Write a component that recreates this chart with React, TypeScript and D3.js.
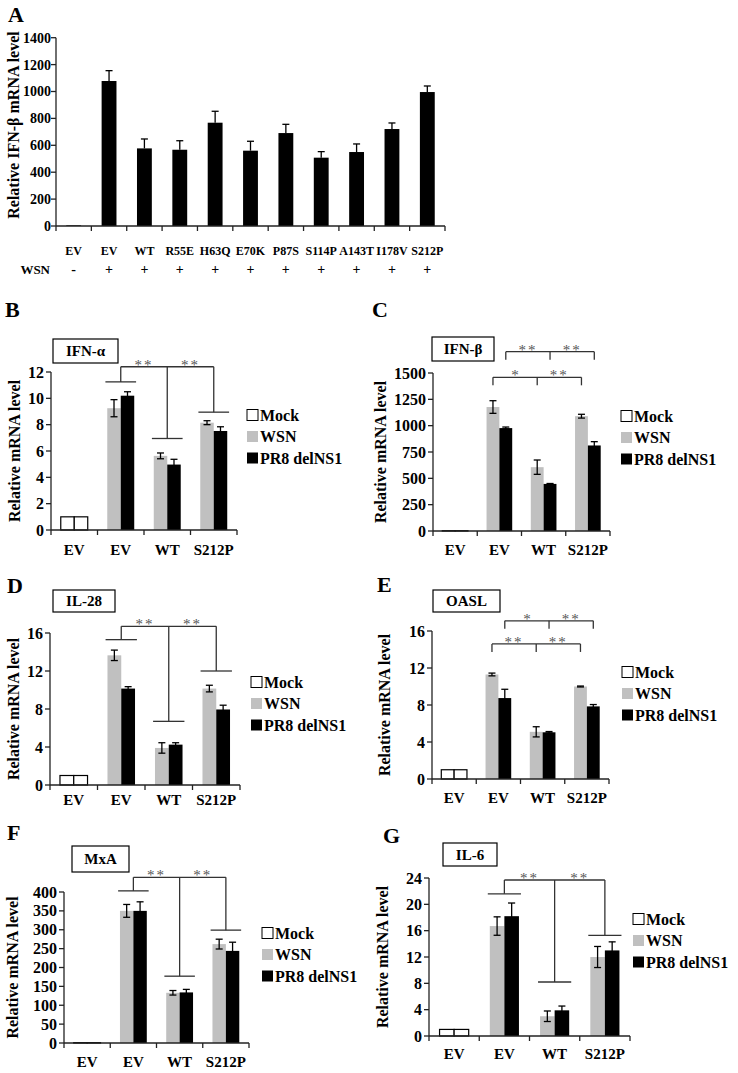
import React from 'react';
import * as d3 from 'd3';

const FONT = '"Liberation Serif", "Times New Roman", serif';
const GRAY = '#c0c0c0';

// Panel A: IFN-beta for NS1 mutants
const aCategories = ['EV', 'EV', 'WT', 'R55E', 'H63Q', 'E70K', 'P87S', 'S114P', 'A143T', 'I178V', 'S212P'];
const aWsn = ['-', '+', '+', '+', '+', '+', '+', '+', '+', '+', '+'];
const aValues = [5, 1078, 577, 567, 768, 560, 691, 508, 550, 721, 996];
const aErrors = [0, 77, 70, 67, 85, 70, 65, 45, 60, 45, 45];
const aTicks = [0, 200, 400, 600, 800, 1000, 1200, 1400];

// Panels B-G
const groups = ['EV', 'EV', 'WT', 'S212P'];
const legendLabels = ['Mock', 'WSN', 'PR8 delNS1'];

const ifnaMock = [1, 1];
const ifnaWsn = [9.25, 5.63, 8.15];
const ifnaWsnErr = [0.65, 0.22, 0.15];
const ifnaPr8 = [10.2, 4.97, 7.52];
const ifnaPr8Err = [0.3, 0.4, 0.32];

const ifnbMock = [3, 3];
const ifnbWsn = [1177, 606, 1090];
const ifnbWsnErr = [60, 68, 18];
const ifnbPr8 = [977, 447, 812];
const ifnbPr8Err = [10, 4, 36];

const il28Mock = [1, 1];
const il28Wsn = [13.65, 3.9, 10.15];
const il28WsnErr = [0.55, 0.55, 0.35];
const il28Pr8 = [10.15, 4.25, 7.95];
const il28Pr8Err = [0.2, 0.2, 0.45];

const oaslMock = [1, 1];
const oaslWsn = [11.3, 5.1, 10.0];
const oaslWsnErr = [0.15, 0.55, 0.05];
const oaslPr8 = [8.75, 5.05, 7.85];
const oaslPr8Err = [0.95, 0.08, 0.2];

const mxaMock = [1, 1];
const mxaWsn = [350, 133, 262];
const mxaWsnErr = [17, 6, 13];
const mxaPr8 = [350, 134, 244];
const mxaPr8Err = [24, 8, 23];

const il6Mock = [1, 1];
const il6Wsn = [16.7, 3.0, 12.0];
const il6WsnErr = [1.4, 0.8, 1.6];
const il6Pr8 = [18.2, 3.9, 13.0];
const il6Pr8Err = [2.0, 0.65, 1.3];

const panels = [
  {
    letter: 'B', lx: 5, ly: 317, gene: 'IFN-α', box: [53, 339, 65, 24],
    x0: 51, x1: 237, yTop: 372, yBot: 530, yMax: 12, step: 2, titleX: 15, labelY: 550,
    legend: [247, 415], mock: ifnaMock, wsn: ifnaWsn, wsnErr: ifnaWsnErr, pr8: ifnaPr8, pr8Err: ifnaPr8Err,
    tree: { ev: 11.25, top: 12.4, wt: 6.95, s: 8.95 },
  },
  {
    letter: 'C', lx: 372, ly: 317, gene: 'IFN-β', box: [432, 337, 62, 24],
    x0: 433, x1: 610, yTop: 373, yBot: 531, yMax: 1500, step: 250, titleX: 381, labelY: 550,
    legend: [621, 416], mock: ifnbMock, wsn: ifnbWsn, wsnErr: ifnbWsnErr, pr8: ifnbPr8, pr8Err: ifnbPr8Err,
    combs: [{ s: 1, v: 1702, stars: ['**', '**'] }, { s: 0, v: 1459, stars: ['*', '**'] }],
  },
  {
    letter: 'D', lx: 7, ly: 593, gene: 'IL-28', box: [53, 590, 62, 22],
    x0: 50, x1: 240, yTop: 633, yBot: 785, yMax: 16, step: 4, titleX: 14, labelY: 800,
    legend: [251, 682], mock: il28Mock, wsn: il28Wsn, wsnErr: il28WsnErr, pr8: il28Pr8, pr8Err: il28Pr8Err,
    tree: { ev: 15.3, top: 16.7, wt: 6.7, s: 12.0 },
  },
  {
    letter: 'E', lx: 377, ly: 592, gene: 'OASL', box: [433, 590, 67, 22],
    x0: 432, x1: 609, yTop: 631, yBot: 779, yMax: 16, step: 4, titleX: 385, labelY: 798,
    legend: [622, 672], mock: oaslMock, wsn: oaslWsn, wsnErr: oaslWsnErr, pr8: oaslPr8, pr8Err: oaslPr8Err,
    combs: [{ s: 1, v: 17.1, stars: ['*', '**'] }, { s: 0, v: 14.6, stars: ['**', '**'] }],
  },
  {
    letter: 'F', lx: 7, ly: 840, gene: 'MxA', box: [72, 846, 57, 26],
    x0: 64, x1: 249, yTop: 892, yBot: 1043, yMax: 400, step: 50, titleX: 13, labelY: 1062,
    legend: [262, 933], mock: mxaMock, wsn: mxaWsn, wsnErr: mxaWsnErr, pr8: mxaPr8, pr8Err: mxaPr8Err,
    tree: { ev: 403, top: 439, wt: 177, s: 299 },
  },
  {
    letter: 'G', lx: 383, ly: 843, gene: 'IL-6', box: [443, 843, 54, 23],
    x0: 429, x1: 630, yTop: 878, yBot: 1036, yMax: 24, step: 4, titleX: 383, labelY: 1054,
    legend: [633, 919], mock: il6Mock, wsn: il6Wsn, wsnErr: il6WsnErr, pr8: il6Pr8, pr8Err: il6Pr8Err,
    tree: { ev: 21.6, top: 23.7, wt: 8.2, s: 15.3 },
  },
];

const PanelA: React.FC = () => {
  const x = d3.scaleBand<number>().domain(d3.range(aCategories.length)).range([56, 445]);
  const y = d3.scaleLinear().domain([0, 1400]).range([226, 37.7]);
  const W = x.bandwidth();
  const bw = W * 0.42;
  return (
    <g>
      <text x={8} y={22} fontSize={22} fontWeight="bold">A</text>
      <text transform={`translate(19,125) rotate(-90)`} textAnchor="middle" fontSize={16} fontWeight="bold">
        Relative IFN-β mRNA level
      </text>
      {aValues.map((v, i) => {
        const cx = (x(i) as number) + W / 2;
        return (
          <g key={i}>
            <rect x={cx - bw / 2} y={y(v)} width={bw} height={y(0) - y(v)} fill="#000" />
            {aErrors[i] > 0 && (
              <g stroke="#000" strokeWidth={1.3}>
                <line x1={cx} x2={cx} y1={y(v)} y2={y(v + aErrors[i])} />
                <line x1={cx - 3.5} x2={cx + 3.5} y1={y(v + aErrors[i])} y2={y(v + aErrors[i])} />
              </g>
            )}
          </g>
        );
      })}
      <g stroke="#222" strokeWidth={1.3}>
        <line x1={56} x2={56} y1={y(0)} y2={y(1400)} />
        <line x1={56} x2={445} y1={y(0)} y2={y(0)} />
        {aTicks.map(t => <line key={t} x1={51} x2={56} y1={y(t)} y2={y(t)} />)}
        {d3.range(aCategories.length + 1).map(i => (
          <line key={i} x1={56 + i * W} x2={56 + i * W} y1={y(0)} y2={y(0) + 5} />
        ))}
      </g>
      {aTicks.map(t => (
        <text key={t} x={51} y={y(t)} dy="0.35em" textAnchor="end" fontSize={14} fontWeight="bold">{t}</text>
      ))}
      {aCategories.map((c, i) => (
        <text key={i} x={(x(i) as number) + W / 2} y={255} textAnchor="middle" fontSize={12} fontWeight="bold">{c}</text>
      ))}
      <text x={50} y={274} textAnchor="end" fontSize={13} fontWeight="bold">WSN</text>
      {aWsn.map((c, i) => (
        <text key={i} x={(x(i) as number) + W / 2} y={274} textAnchor="middle" fontSize={14} fontWeight="bold">{c}</text>
      ))}
    </g>
  );
};

const SubPanel: React.FC<{ p: any }> = ({ p }) => {
  const x = d3.scaleBand<number>().domain(d3.range(groups.length)).range([p.x0, p.x1]);
  const y = d3.scaleLinear().domain([0, p.yMax]).range([p.yBot, p.yTop]);
  const W = x.bandwidth();
  const bw = W * 0.29;
  const gc = (g: number) => (x(g) as number) + W / 2;
  const bc = (g: number, s: number) => gc(g) + (s === 0 ? -bw / 2 : bw / 2);
  const ticks = d3.range(0, p.yMax + p.step / 2, p.step);
  const bars: any[] = [];
  p.mock.forEach((v: number, s: number) => bars.push({ g: 0, s, v, e: 0, fill: '#fff', stroke: '#000' }));
  p.wsn.forEach((v: number, i: number) => bars.push({ g: i + 1, s: 0, v, e: p.wsnErr[i], fill: GRAY }));
  p.pr8.forEach((v: number, i: number) => bars.push({ g: i + 1, s: 1, v, e: p.pr8Err[i], fill: '#000' }));
  const starY = (v: number) => y(v) + 3;
  const lc = '#333';
  return (
    <g>
      <text x={p.lx} y={p.ly} fontSize={22} fontWeight="bold">{p.letter}</text>
      <rect x={p.box[0]} y={p.box[1]} width={p.box[2]} height={p.box[3]} fill="none" stroke="#000" strokeWidth={1.2} />
      <text x={p.box[0] + p.box[2] / 2} y={p.box[1] + p.box[3] / 2} dy="0.35em" textAnchor="middle" fontSize={15} fontWeight="bold">
        {p.gene}
      </text>
      <text transform={`translate(${p.titleX + 5},${(p.yTop + p.yBot) / 2}) rotate(-90)`} textAnchor="middle" fontSize={16} fontWeight="bold">
        Relative mRNA level
      </text>
      {bars.map((b, i) => {
        const cx = bc(b.g, b.s);
        return (
          <g key={i}>
            <rect x={cx - bw / 2} y={y(b.v)} width={bw} height={y(0) - y(b.v)} fill={b.fill}
              stroke={b.stroke || 'none'} strokeWidth={1.2} />
            {b.e > 0 && (
              <g stroke="#000" strokeWidth={1.3}>
                <line x1={cx} x2={cx} y1={y(b.v - b.e)} y2={y(b.v + b.e)} />
                <line x1={cx - 3.5} x2={cx + 3.5} y1={y(b.v + b.e)} y2={y(b.v + b.e)} />
                <line x1={cx - 3.5} x2={cx + 3.5} y1={y(b.v - b.e)} y2={y(b.v - b.e)} />
              </g>
            )}
          </g>
        );
      })}
      <g stroke="#222" strokeWidth={1.3}>
        <line x1={p.x0} x2={p.x0} y1={y(0)} y2={y(p.yMax)} />
        <line x1={p.x0} x2={p.x1} y1={y(0)} y2={y(0)} />
        {ticks.map((t: number) => <line key={t} x1={p.x0 - 5} x2={p.x0} y1={y(t)} y2={y(t)} />)}
        {d3.range(groups.length + 1).map(i => (
          <line key={i} x1={p.x0 + i * W} x2={p.x0 + i * W} y1={y(0)} y2={y(0) + 5} />
        ))}
      </g>
      {ticks.map((t: number) => (
        <text key={t} x={p.x0 - 7} y={y(t)} dy="0.35em" textAnchor="end" fontSize={16} fontWeight="bold">{t}</text>
      ))}
      {groups.map((c, i) => (
        <text key={i} x={gc(i)} y={p.labelY} dy="0.35em" textAnchor="middle" fontSize={15} fontWeight="bold">{c}</text>
      ))}
      {p.tree && (
        <g stroke={lc} strokeWidth={1.3} fill="none">
          <line x1={gc(1) - W * 0.33} x2={gc(1) + W * 0.33} y1={y(p.tree.ev)} y2={y(p.tree.ev)} />
          <line x1={gc(1)} x2={gc(1)} y1={y(p.tree.ev)} y2={y(p.tree.top)} />
          <line x1={gc(1)} x2={gc(3)} y1={y(p.tree.top)} y2={y(p.tree.top)} />
          <line x1={gc(2)} x2={gc(2)} y1={y(p.tree.top)} y2={y(p.tree.wt)} />
          <line x1={gc(2) - W * 0.33} x2={gc(2) + W * 0.33} y1={y(p.tree.wt)} y2={y(p.tree.wt)} />
          <line x1={gc(3)} x2={gc(3)} y1={y(p.tree.top)} y2={y(p.tree.s)} />
          <line x1={gc(3) - W * 0.33} x2={gc(3) + W * 0.33} y1={y(p.tree.s)} y2={y(p.tree.s)} />
        </g>
      )}
      {p.tree && [1, 2].map(g => (
        <text key={g} x={(gc(g) + gc(g + 1)) / 2} y={starY(p.tree.top)} textAnchor="middle" fontSize={15}
          fill="#555" letterSpacing={2}>**</text>
      ))}
      {p.combs && p.combs.map((c: any, k: number) => (
        <g key={k}>
          <g stroke={lc} strokeWidth={1.3} fill="none">
            <line x1={bc(1, c.s)} x2={bc(3, c.s)} y1={y(c.v)} y2={y(c.v)} />
            {[1, 2, 3].map(g => (
              <line key={g} x1={bc(g, c.s)} x2={bc(g, c.s)} y1={y(c.v)} y2={y(c.v) + 8} />
            ))}
          </g>
          {c.stars.map((st: string, j: number) => (
            <text key={j} x={(bc(j + 1, c.s) + bc(j + 2, c.s)) / 2} y={starY(c.v)} textAnchor="middle" fontSize={15}
              fill="#555" letterSpacing={st.length > 1 ? 2 : 0}>{st}</text>
          ))}
        </g>
      ))}
      {legendLabels.map((l, i) => {
        const ly = p.legend[1] + i * 21.5;
        const fills = ['#fff', GRAY, '#000'];
        return (
          <g key={l}>
            <rect x={p.legend[0]} y={ly - 5.5} width={11} height={11} fill={fills[i]}
              stroke={i === 0 ? '#000' : 'none'} strokeWidth={1} />
            <text x={p.legend[0] + 13} y={ly} dy="0.35em" fontSize={16} fontWeight="bold">{l}</text>
          </g>
        );
      })}
    </g>
  );
};

export default function App() {
  return (
    <svg width={738} height={1073} viewBox="0 0 738 1073"
      style={{ position: 'absolute', left: 0, top: 0, display: 'block', background: '#fff' }}
      fontFamily={FONT}>
      <rect width={738} height={1073} fill="#fff" />
      <PanelA />
      {panels.map(p => <SubPanel key={p.letter} p={p} />)}
    </svg>
  );
}
